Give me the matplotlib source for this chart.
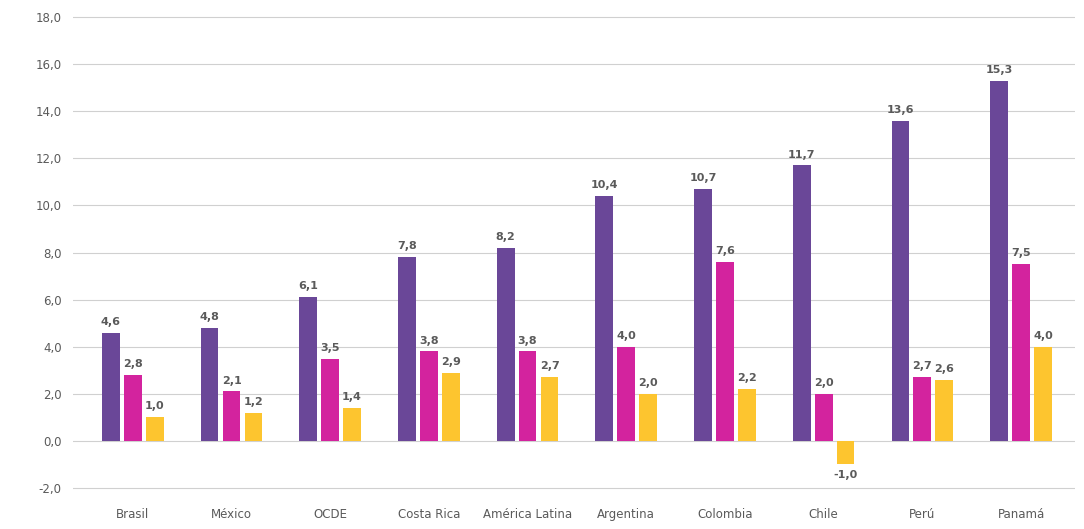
import numpy as np
import matplotlib.pyplot as plt

paises = ['Brasil', 'México', 'OCDE', 'Costa Rica', 'América Latina',
          'Argentina', 'Colombia', 'Chile', 'Perú', 'Panamá']
serie1 = [4.6, 4.8, 6.1, 7.8, 8.2, 10.4, 10.7, 11.7, 13.6, 15.3]
serie2 = [2.8, 2.1, 3.5, 3.8, 3.8, 4.0, 7.6, 2.0, 2.7, 7.5]
serie3 = [1.0, 1.2, 1.4, 2.9, 2.7, 2.0, 2.2, -1.0, 2.6, 4.0]
yticks = np.arange(-2, 20, 2)

colores = ['#6a4798', '#d3239e', '#fdc52f']
gris = '#5a5a5a'

fig = plt.figure(figsize=(10.84, 5.29), dpi=100)
ax = fig.add_axes([0.067, 0.073, 0.925, 0.897])

x = np.arange(len(paises))
w = 0.18
off = 0.222
for i, (serie, c) in enumerate(zip([serie1, serie2, serie3], colores)):
    pos = x + (i - 1) * off
    ax.bar(pos, serie, width=w, color=c, zorder=3)
    for px, v in zip(pos, serie):
        txt = f'{v:.1f}'.replace('.', ',')
        if v >= 0:
            ax.text(px, v + 0.25, txt, ha='center', va='bottom', fontsize=8,
                    fontweight='bold', color=gris)
        else:
            ax.text(px, v - 0.25, txt, ha='center', va='top', fontsize=8,
                    fontweight='bold', color=gris)

ax.set_ylim(-2.1, 18.05)
ax.set_xlim(-0.61, 9.55)
ax.set_yticks(yticks)
ax.set_yticklabels([f'{t:.1f}'.replace('.', ',') for t in yticks])
ax.set_xticks(x)
ax.set_xticklabels(paises)
ax.grid(axis='y', color='#d0d0d0', linewidth=0.8, zorder=0)
for s in ax.spines.values():
    s.set_visible(False)
ax.tick_params(axis='both', length=0, labelsize=8.5, colors=gris)
ax.tick_params(axis='y', pad=8)
ax.tick_params(axis='x', pad=13)

fig.savefig('out.png', dpi=100)
